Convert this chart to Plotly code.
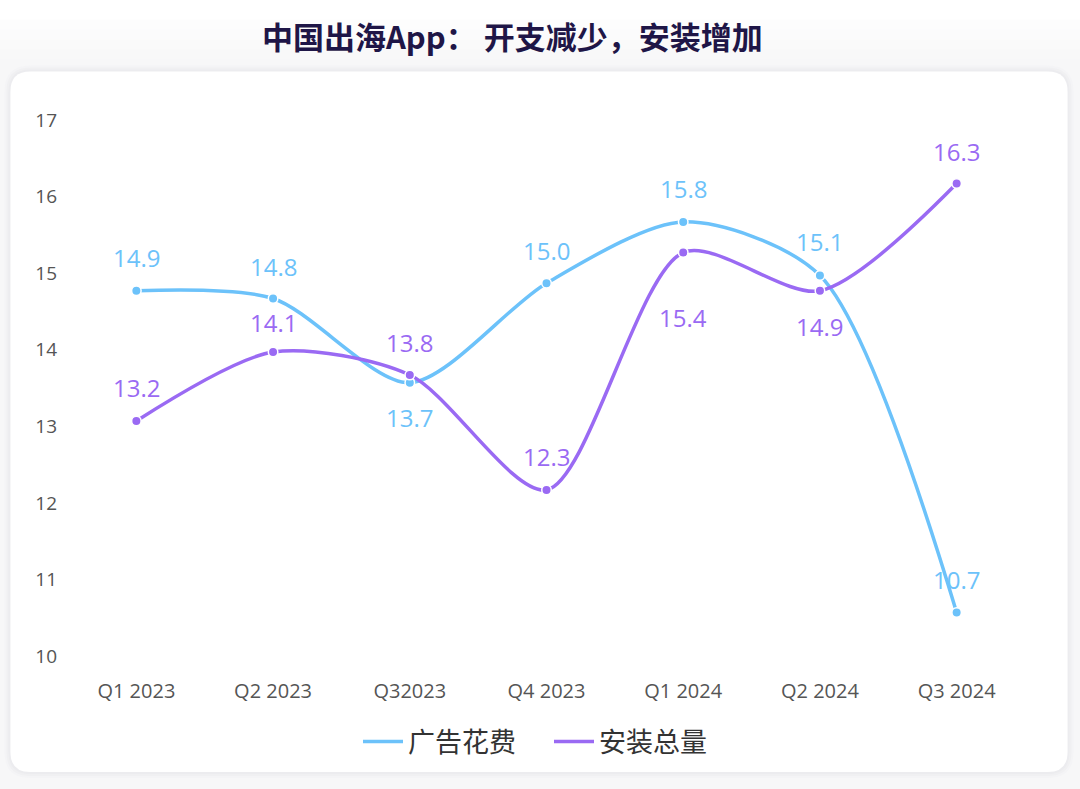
import plotly.graph_objects as go

categories = ["Q1 2023", "Q2 2023", "Q32023", "Q4 2023", "Q1 2024", "Q2 2024", "Q3 2024"]
ad_spend = [14.9, 14.8, 13.7, 15.0, 15.8, 15.1, 10.7]
installs = [13.2, 14.1, 13.8, 12.3, 15.4, 14.9, 16.3]
series_names = ["广告花费", "安装总量"]
y_ticks = [10, 11, 12, 13, 14, 15, 16, 17]

# label offsets (pixels; + above, - below)
ad_label_shift = [33, 32, -35, 33, 33, 34, 33]
inst_label_shift = [33, 30, 33, 33, -65, -36, 32]

BLUE = "#6cc2fa"
PURPLE = "#9a6af3"
W, H = 1080, 789
L, R, T, B = 67.6, 1025.4, 130.4, 666.0

fig = go.Figure()
for name, vals, col in [(series_names[0], ad_spend, BLUE), (series_names[1], installs, PURPLE)]:
    fig.add_trace(go.Scatter(
        x=categories, y=vals, name=name, mode="lines",
        line=dict(color=col, width=3.5, shape="spline", smoothing=0.8),
        hoverinfo="skip",
    ))
for name, vals, col in [(series_names[0], ad_spend, BLUE), (series_names[1], installs, PURPLE)]:
    fig.add_trace(go.Scatter(
        x=categories, y=vals, name=name, mode="markers", showlegend=False,
        marker=dict(size=9.5, color=col, line=dict(color="white", width=1.5)),
    ))

annots = []
for vals, shifts, col in [(ad_spend, ad_label_shift, BLUE), (installs, inst_label_shift, PURPLE)]:
    for c, v, s in zip(categories, vals, shifts):
        annots.append(dict(x=c, y=v, xref="x", yref="y", text=f"{v:.1f}", showarrow=False,
                           yshift=s, yanchor="middle", xanchor="center",
                           font=dict(family="Open Sans", size=24, color=col)))

annots.append(dict(x=(512 - L) / (R - L), y=(B - 36) / (B - T), xref="paper", yref="paper",
                   text="<b>中国出海App： 开支减少，安装增加</b>", showarrow=False,
                   xanchor="center", yanchor="middle",
                   font=dict(family="Noto Sans CJK SC", size=31, color="#1f1647")))

def px2paper(x, y):
    return (x - L) / (R - L), (B - y) / (B - T)

def rounded_rect(x0, y0, x1, y1, r):
    def p(x, y):
        a, b = px2paper(x, y)
        return f"{a:.5f},{b:.5f}"
    return (f"M {p(x0 + r, y0)} L {p(x1 - r, y0)} Q {p(x1, y0)} {p(x1, y0 + r)} "
            f"L {p(x1, y1 - r)} Q {p(x1, y1)} {p(x1 - r, y1)} "
            f"L {p(x0 + r, y1)} Q {p(x0, y1)} {p(x0, y1 - r)} "
            f"L {p(x0, y0 + r)} Q {p(x0, y0)} {p(x0 + r, y0)} Z")

shapes = []
# soft fade from white at the top to light gray (largest strip drawn first)
fade = ["#ffffff", "#fdfdfd", "#fbfbfc", "#fafafa", "#f8f8f9"]
for i in range(len(fade) - 1, -1, -1):
    shapes.append(dict(type="path", xref="paper", yref="paper",
                       path=rounded_rect(-20, -20, 1100, 20 + i * 10, 0),
                       fillcolor=fade[i], line=dict(width=0), layer="below"))
for i, c in enumerate(["#f4f4f6", "#f0f0f2", "#ececef"]):
    g = 6 - 2 * i
    shapes.append(dict(type="path", xref="paper", yref="paper",
                       path=rounded_rect(10 - g, 72 - g, 1068 + g, 772 + g, 20 + g),
                       fillcolor=c, line=dict(width=0), layer="below"))
shapes.append(dict(type="path", xref="paper", yref="paper", path=rounded_rect(10, 72, 1068, 772, 20),
                   fillcolor="white", line=dict(width=0), layer="below"))

fig.update_layout(
    width=W, height=H,
    margin=dict(l=L, r=W - R, t=T, b=H - B, pad=0),
    paper_bgcolor="#f7f7f8", plot_bgcolor="rgba(0,0,0,0)",
    showlegend=True,
    legend=dict(orientation="h", x=(549 - L) / (R - L), xanchor="center",
                y=(B - 742) / (B - T), yanchor="middle",
                font=dict(family="Noto Sans CJK SC", size=27, color="#333333"),
                bgcolor="rgba(0,0,0,0)", itemwidth=40, entrywidth=136, tracegroupgap=0),
    annotations=annots,
    shapes=shapes,
    xaxis=dict(type="category", range=[-0.5, 6.5], showgrid=False, zeroline=False,
               showline=False, ticks="", ticklabelstandoff=11,
               tickfont=dict(family="Open Sans", size=20, color="#555555")),
    yaxis=dict(range=[10, 17], tickvals=y_ticks, showgrid=False, zeroline=False,
               showline=False, ticks="", ticklabelshift=-10, ticklabelstandoff=10,
               tickfont=dict(family="Open Sans", size=19, color="#555555")),
)

fig.write_html("out.html", config={"displayModeBar": False},
               post_script="document.body.style.margin='0';")
